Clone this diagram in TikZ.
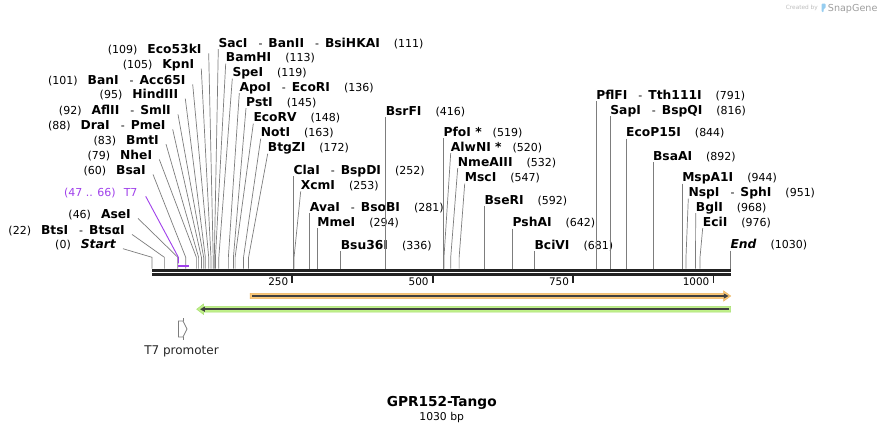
\documentclass[tikz,border=0pt]{standalone}
\usepackage{fontspec}
\setmainfont{DejaVu Sans}
\usepackage{xcolor}
\usepackage{tikz}
\usetikzlibrary{calc}

\definecolor{linegray}{RGB}{125,125,125}
\definecolor{bbdark}{RGB}{34,34,34}
\definecolor{t7purple}{RGB}{160,64,235}
\definecolor{orffill}{RGB}{250,200,120}
\definecolor{orfedge}{RGB}{238,180,95}
\definecolor{grnfill}{RGB}{192,240,138}
\definecolor{grnedge}{RGB}{168,224,112}
\definecolor{featline}{RGB}{64,64,64}
\definecolor{wmgray}{RGB}{190,190,190}
\definecolor{wmblue}{RGB}{150,205,240}

\newcommand{\numfont}{\fontsize{11}{13}\selectfont\mdseries\upshape}
\newcommand{\enzsep}{{\numfont\hspace{11pt}-\hspace{6pt}}}
\newcommand{\enzpos}[1]{\hspace{14pt}{\numfont(#1)}}
\newcommand{\enzposl}[1]{{\numfont(#1)}\hspace{10pt}}
\newcommand{\bpx}[1]{152+#1*0.5615}

\begin{document}
\begin{tikzpicture}[
    x=1pt, y=-1pt,
    lsite/.style={
        anchor=base east, inner sep=0pt,
        font=\fontsize{12.3}{14}\selectfont\bfseries,
        text=black
    },
    rsite/.style={
        anchor=base west, inner sep=0pt,
        font=\fontsize{12.3}{14}\selectfont\bfseries,
        text=black
    },
    cut/.style={
        draw=linegray, line width=0.7pt
    },
    tickmark/.style={
        draw=bbdark, line width=1.8pt
    },
    ticklab/.style={
        anchor=base east, inner sep=0pt,
        font=\fontsize{10.4}{12}\selectfont,
        text=black
    },
    darkline/.style={
        draw=featline, line width=1.8pt
    }
]

\fill[white] (0,0) rectangle (883,432);
\useasboundingbox (0,0) rectangle (883,432);

\node[anchor=base east, inner sep=0pt, font=\fontsize{5.8}{7}\selectfont, text=wmgray]
    (wmby) at (818,9.5) {Created by};
\fill[wmblue, rounded corners=0.8pt] (821.7,3.5) -- (825.5,3.5) -- (825.5,8.2)
    -- (823.6,8.8) -- (823.6,12) -- (821.7,12) -- cycle;
\node[anchor=base west, inner sep=0pt, font=\fontsize{9.6}{11}\selectfont, text=black!38]
    (wmsg) at (827.7,11.2) {SnapGene};

\coordinate (kink) at (0,257.3);
\foreach \p in {0,22,46,60,79,83,88,92,95,101,105,109,111,113,119,136,145,148,163,172,
    252,253,281,294,336,416,519,520,532,547,592,642,681,791,816,844,892,944,951,968,976,1030}
    \coordinate (s\p) at (\bpx{\p},268.5);

\draw[draw=bbdark, line width=3.2pt] (152,270.2) -- (730.7,270.2);
\draw[draw=bbdark, line width=2.6pt] (152,274.2) -- (730.7,274.2);

\coordinate (t250) at (\bpx{250},275.5);
\coordinate (t500) at (\bpx{500},275.5);
\coordinate (t750) at (\bpx{750},275.5);
\coordinate (t1000) at (\bpx{1000},275.5);
\draw[tickmark] (t250) -- ++(0,7.5);
\draw[tickmark] (t500) -- ++(0,7.5);
\draw[tickmark] (t750) -- ++(0,7.5);
\draw[tickmark] (t1000) -- ++(0,7.5);
\node[ticklab] (n250) at ($(t250)+(-4,10.3)$) {250};
\node[ticklab] (n500) at ($(t500)+(-4,10.3)$) {500};
\node[ticklab] (n750) at ($(t750)+(-4,10.3)$) {750};
\node[ticklab] (n1000) at ($(t1000)+(-4,10.3)$) {1000};

% left-hand sites
\node[lsite] (l109) at (201.7,53.4) {\enzposl{109}Eco53kI};
\node[lsite] (l105) at (194.3,68.7) {\enzposl{105}KpnI};
\node[lsite] (l101) at (185.7,84.4) {\enzposl{101}BanI\enzsep Acc65I};
\node[lsite] (l95) at (178.3,98.7) {\enzposl{95}HindIII};
\node[lsite] (l92) at (171,114.4) {\enzposl{92}AflII\enzsep SmlI};
\node[lsite] (l88) at (165.7,129.4) {\enzposl{88}DraI\enzsep PmeI};
\node[lsite] (l83) at (159,144.1) {\enzposl{83}BmtI};
\node[lsite] (l79) at (152.3,159.4) {\enzposl{79}NheI};
\node[lsite] (l60) at (146,174.4) {\enzposl{60}BsaI};
\node[lsite] (l46) at (131,218.4) {\enzposl{46}AseI};
\node[lsite] (l22) at (125,234.4) {\enzposl{22}BtsI\enzsep BtsαI};
\node[lsite] (l0) at (116,248.7) {\enzposl{0}\itshape Start};

% right-hand sites
\node[rsite] (r111) at (218.3,47.1) {SacI\enzsep BanII\enzsep BsiHKAI\enzpos{111}};
\node[rsite] (r113) at (225.7,61.7) {BamHI\enzpos{113}};
\node[rsite] (r119) at (232.3,76.7) {SpeI\enzpos{119}};
\node[rsite] (r136) at (239.3,91.1) {ApoI\enzsep EcoRI\enzpos{136}};
\node[rsite] (r145) at (246,106.1) {PstI\enzpos{145}};
\node[rsite] (r148) at (253.3,121.7) {EcoRV\enzpos{148}};
\node[rsite] (r163) at (260.7,136.7) {NotI\enzpos{163}};
\node[rsite] (r172) at (267.7,151.7) {BtgZI\enzpos{172}};
\node[rsite] (r252) at (\bpx{252},174.4) {ClaI\enzsep BspDI\enzpos{252}};
\node[rsite] (r253) at (300.7,189.4) {XcmI\enzpos{253}};
\node[rsite] (r281) at (\bpx{281},211.1) {AvaI\enzsep BsoBI\enzpos{281}};
\node[rsite] (r294) at (\bpx{294},226.1) {MmeI\enzpos{294}};
\node[rsite] (r336) at (\bpx{336},249.4) {Bsu36I\enzpos{336}};
\node[rsite] (r416) at (\bpx{416},115.4) {BsrFI\enzpos{416}};
\node[rsite] (r519) at (\bpx{519},136.1) {PfoI *\hspace{11pt}{\numfont(519)}};
\node[rsite] (r520) at (450.7,151.1) {AlwNI *\hspace{11pt}{\numfont(520)}};
\node[rsite] (r532) at (457.7,166.1) {NmeAIII\enzpos{532}};
\node[rsite] (r547) at (464.7,181.7) {MscI\enzpos{547}};
\node[rsite] (r592) at (\bpx{592},204.4) {BseRI\enzpos{592}};
\node[rsite] (r642) at (\bpx{642},226.7) {PshAI\enzpos{642}};
\node[rsite] (r681) at (\bpx{681},249.1) {BciVI\enzpos{681}};
\node[rsite] (r791) at (\bpx{791},99.4) {PflFI\enzsep Tth111I\enzpos{791}};
\node[rsite] (r816) at (\bpx{816},114.4) {SapI\enzsep BspQI\enzpos{816}};
\node[rsite] (r844) at (\bpx{844},136.7) {EcoP15I\enzpos{844}};
\node[rsite] (r892) at (\bpx{892},160.4) {BsaAI\enzpos{892}};
\node[rsite] (r944) at (\bpx{944},181.7) {MspA1I\enzpos{944}};
\node[rsite] (r951) at (688.3,196.7) {NspI\enzsep SphI\enzpos{951}};
\node[rsite] (r968) at (695.7,211.1) {BglI\enzpos{968}};
\node[rsite] (r976) at (702.7,226.1) {EciI\enzpos{976}};
\node[rsite] (r1030) at (\bpx{1030},248.7) {\itshape End\enzpos{1030}};

\foreach \p in {109,105,101,95,92,88,83,79,60,46,22,0}
    \draw[cut] ([xshift=7pt]l\p.base east) -- (s\p |- kink) -- (s\p);
\foreach \p in {111,113,119,136,145,148,163,172,252,253,281,294,336,416,519,520,532,547,
    592,642,681,791,816,844,892,944,951,968,976,1030}
    \draw[cut] ([yshift=-2pt]r\p.base west) -- (s\p |- kink) -- (s\p);

% T7 promoter
\node[anchor=base east, inner sep=0pt, font=\numfont, text=t7purple]
    (t7lab) at (137.7,196.3) {(47 .. 66)\hspace{8pt}T7};
\coordinate (t7a) at (\bpx{47},263.3);
\coordinate (t7b) at (\bpx{66},265.7);
\draw[draw=t7purple, line width=0.9pt] ([xshift=8pt]t7lab.base east) -- (t7a |- kink) -- (t7a);
\draw[draw=t7purple, line width=1.8pt] (t7a |- t7b) -- (t7b);

\draw[draw=linegray, line width=0.8pt, line join=miter]
    (178.5,321) -- (183,321) -- (187,329) -- (183,337) -- (178.5,337) -- cycle;
\draw[draw=linegray, line width=0.8pt] (183,318) -- (183,321) (183,337) -- (183,340);
\node[anchor=base, inner sep=0pt, font=\fontsize{12}{14}\selectfont, text=black!85]
    (t7prom) at (181.5,354.5) {T7 promoter};

% features
\filldraw[fill=orffill, draw=orfedge, line width=0.5pt]
    (250,293.3) -- (723.5,293.3) -- (723.5,290.8) -- (730.7,296)
    -- (723.5,301.2) -- (723.5,298.7) -- (250,298.7) -- cycle;
\draw[darkline] (252.3,296) -- (725,296);
\fill[featline] (723.8,293.4) -- (728.6,296) -- (723.8,298.6) -- cycle;

\filldraw[fill=grnfill, draw=grnedge, line width=0.5pt]
    (730.7,306.3) -- (203.5,306.3) -- (203.5,304) -- (196.7,309.2)
    -- (203.5,314.4) -- (203.5,312) -- (730.7,312) -- cycle;
\draw[darkline] (729,309.2) -- (204,309.2);
\fill[featline] (204.8,306.6) -- (200,309.2) -- (204.8,311.8) -- cycle;

\node[anchor=base, inner sep=0pt, font=\fontsize{13.7}{16}\selectfont\bfseries, text=black]
    (title) at (441.7,406.7) {GPR152-Tango};
\node[anchor=base, inner sep=0pt, font=\fontsize{10.8}{13}\selectfont, text=black]
    (size) at (441.7,420) {1030 bp};

\end{tikzpicture}
\end{document}
